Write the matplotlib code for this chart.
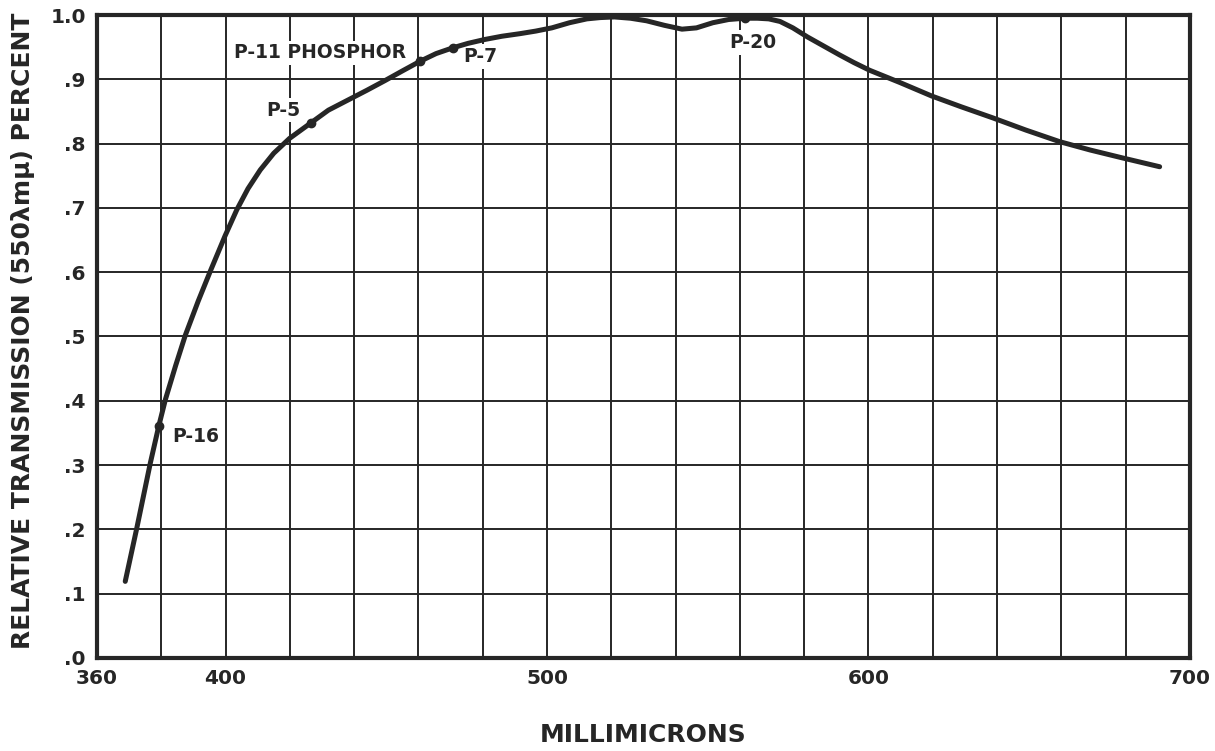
import matplotlib
matplotlib.use("Agg")
import matplotlib.pyplot as plt

# Curve (wavelength in millimicrons, relative transmission)
wavelength = [368.8, 372.4, 376.6, 379.2, 381.3, 384.5, 387.5, 391.5, 395.3, 399.9,
              403.5, 407.0, 410.8, 415.0, 419.9, 426.5, 432.0, 437.8, 444.0, 449.6,
              455.0, 460.5, 465.5, 470.7, 475.5, 480.7, 486.0, 491.6, 496.5, 501.5,
              507.0, 512.4, 516.5, 521.0, 526.0, 531.0, 536.5, 542.0, 546.5, 551.6,
              556.5, 561.5, 565.5, 569.0, 572.5, 576.5, 581.0, 586.0, 591.0, 595.5,
              600.4, 609.8, 619.7, 629.0, 638.7, 649.0, 659.5, 669.0, 678.8, 690.6]
transmission = [0.119, 0.202, 0.303, 0.360, 0.402, 0.455, 0.502, 0.555, 0.602, 0.657,
                0.697, 0.730, 0.759, 0.785, 0.808, 0.832, 0.852, 0.867, 0.883, 0.898,
                0.913, 0.928, 0.940, 0.949, 0.956, 0.962, 0.967, 0.971, 0.975, 0.980,
                0.988, 0.994, 0.996, 0.997, 0.995, 0.991, 0.984, 0.978, 0.980, 0.988,
                0.993, 0.995, 0.995, 0.994, 0.990, 0.980, 0.966, 0.952, 0.938, 0.926,
                0.914, 0.895, 0.874, 0.857, 0.840, 0.821, 0.803, 0.790, 0.778, 0.764]

# Phosphor markers
marker_names = ["P-16", "P-5", "P-11 PHOSPHOR", "P-7", "P-20"]
marker_x = [379.2, 426.5, 460.5, 470.7, 561.5]
marker_y = [0.360, 0.832, 0.928, 0.949, 0.995]

x_ticks = [360, 400, 500, 600, 700]
x_ticklabels = ["360", "400", "500", "600", "700"]
y_ticks = [0.0, 0.1, 0.2, 0.3, 0.4, 0.5, 0.6, 0.7, 0.8, 0.9, 1.0]
y_ticklabels = [".0", ".1", ".2", ".3", ".4", ".5", ".6", ".7", ".8", ".9", "1.0"]

ink = "#262626"
plt.rcParams['font.family'] = ['DejaVu Sans']

fig = plt.figure(figsize=(12.15, 7.51), dpi=100)
ax = fig.add_axes([0.0798, 0.124, 0.8995, 0.856])
ax.set_xlim(360, 700)
ax.set_ylim(0, 1.0)

# grid every 20 mμ and every 0.1
for gx in range(380, 700, 20):
    ax.axvline(gx, color=ink, lw=1.4, zorder=1)
for gy in [0.1 * i for i in range(1, 10)]:
    ax.axhline(gy, color=ink, lw=1.4, zorder=1)

ax.plot(wavelength, transmission, color=ink, lw=3.6, solid_capstyle='round',
        solid_joinstyle='round', zorder=4)
ax.plot(marker_x, marker_y, 'o', color=ink, ms=6, zorder=5)

label_pos = {
    "P-16": (383.5, 0.345, 'left'),
    "P-5": (418.0, 0.852, 'center'),
    "P-11 PHOSPHOR": (429.5, 0.941, 'center'),
    "P-7": (474.0, 0.935, 'left'),
    "P-20": (564.0, 0.957, 'center'),
}
for name in marker_names:
    lx, ly, ha = label_pos[name]
    ax.text(lx, ly, name, ha=ha, va='center', fontsize=13.5, color=ink,
            fontweight='bold', zorder=3,
            bbox=dict(boxstyle='square,pad=0.15', fc='white', ec='none'))

for s in ax.spines.values():
    s.set_linewidth(3.0)
    s.set_color(ink)
    s.set_zorder(6)

ax.set_xticks(x_ticks)
ax.set_xticklabels(x_ticklabels)
ax.set_yticks(y_ticks)
ax.set_yticklabels(y_ticklabels)
ax.tick_params(length=0, labelsize=14.5, colors=ink, pad=8)
for t in ax.get_xticklabels() + ax.get_yticklabels():
    t.set_fontweight('bold')

fig.text(0.529, 0.021, "MILLIMICRONS", ha='center', va='center', fontsize=18,
         fontweight='bold', color=ink)
fig.text(0.019, 0.56, "RELATIVE TRANSMISSION (550λmμ) PERCENT", rotation=90,
         ha='center', va='center', fontsize=18, fontweight='bold', color=ink)

fig.savefig("out.png", dpi=100, facecolor='white')
